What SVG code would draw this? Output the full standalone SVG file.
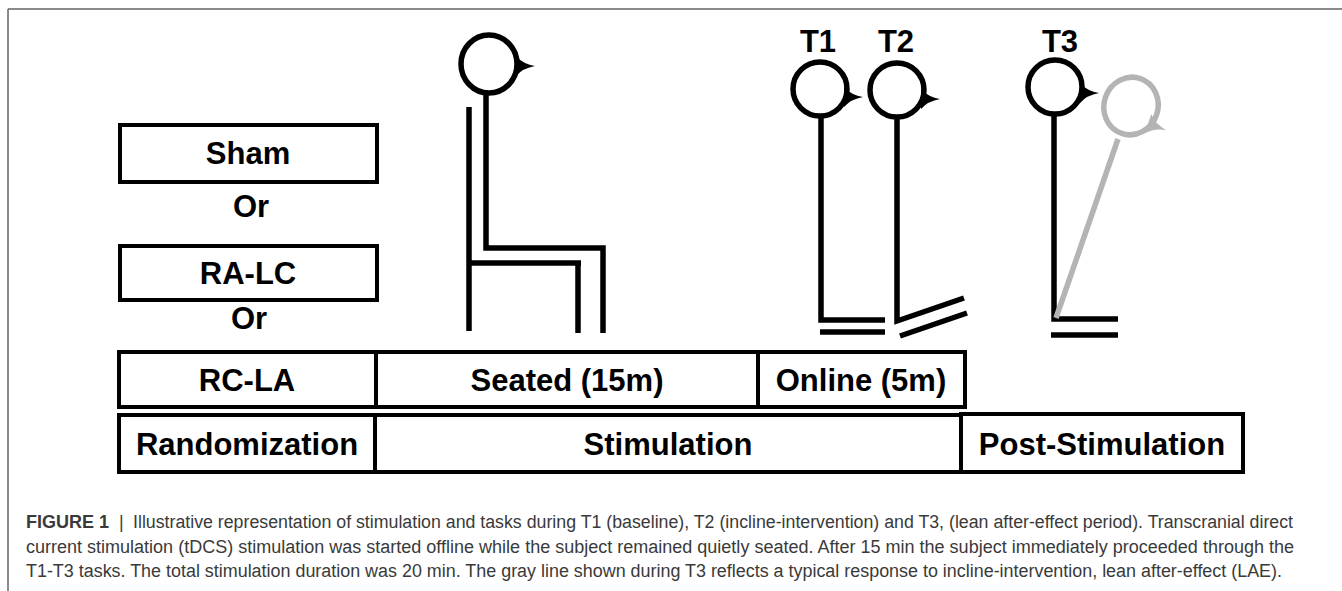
<svg xmlns="http://www.w3.org/2000/svg" width="1342" height="591" viewBox="0 0 1342 591">
<style>
.box{fill:#fff;stroke:#000;stroke-width:4}
.lbl{font-family:"Liberation Sans",Arial,sans-serif;font-weight:bold;font-size:31px;fill:#000;text-anchor:middle}
.cap{font-family:"Liberation Sans",Arial,sans-serif;font-size:18px;fill:#3a3a3a}
.limb{fill:none;stroke:#000;stroke-width:5.5;stroke-linejoin:miter;stroke-linecap:butt}
.head{fill:none;stroke:#000;stroke-width:5.5}
.gray{stroke:#b4b4b4}
</style>
<defs>
<path id="nose" d="M-19,-10 Q-12,-2 0,0 Q-12,2 -19,10 Z"/>
</defs>
<rect width="1342" height="591" fill="#fff"/>
<g id="frame" fill="none" stroke="#666" stroke-width="1.5">
<path d="M8,9 H1342 M8,9 V591"/>
</g>

<g id="sham"><rect class="box" x="120" y="125" width="257" height="57"/><text class="lbl" x="248" y="164">Sham</text></g>
<g id="or1"><text class="lbl" x="251" y="217">Or</text></g>
<g id="ra-lc"><rect class="box" x="120" y="246" width="257" height="54"/><text class="lbl" x="248" y="284">RA-LC</text></g>
<g id="or2"><text class="lbl" x="249" y="329">Or</text></g>
<g id="rc-la"><rect class="box" x="119" y="352" width="257" height="55"/><text class="lbl" x="247" y="391">RC-LA</text></g>
<g id="seated"><rect class="box" x="376" y="352" width="382" height="55"/><text class="lbl" x="567" y="391">Seated (15m)</text></g>
<g id="online"><rect class="box" x="758" y="352" width="207" height="55"/><text class="lbl" x="861" y="391">Online (5m)</text></g>
<g id="randomization"><rect class="box" x="119" y="415" width="256" height="57"/><text class="lbl" x="247" y="455">Randomization</text></g>
<g id="stimulation"><rect class="box" x="375" y="415" width="586" height="57"/><text class="lbl" x="668" y="455">Stimulation</text></g>
<g id="post-stimulation"><rect class="box" x="961" y="414" width="282" height="58"/><text class="lbl" x="1102" y="455">Post-Stimulation</text></g>

<g id="seated-figure">
<ellipse class="head" cx="489" cy="64" rx="28" ry="29"/>
<use href="#nose" transform="translate(535,66)"/>
<path class="limb" d="M486,93 V248 H603 V333"/>
<path class="limb" d="M469,107 V331 M469,263 H581 M578,263 V333"/>
</g>

<g id="t1-figure">
<text class="lbl" x="818" y="52">T1</text>
<ellipse class="head" cx="820" cy="89" rx="27" ry="27"/>
<use href="#nose" transform="translate(863,97)"/>
<path class="limb" d="M821,116 V320 H885 M820,332 H885"/>
</g>

<g id="t2-figure">
<text class="lbl" x="896" y="52">T2</text>
<ellipse class="head" cx="897" cy="90" rx="27" ry="27"/>
<use href="#nose" transform="translate(940,99)"/>
<path class="limb" d="M897,117 V321 L964,298 M900,336 L967,313"/>
</g>

<g id="t3-figure">
<text class="lbl" x="1060" y="52">T3</text>
<ellipse class="head" cx="1055" cy="87" rx="27" ry="27"/>
<use href="#nose" transform="translate(1099,93)"/>
<path class="limb" d="M1054,114 V319 H1118 M1051,335 H1118"/>
</g>

<g id="lae-figure">
<path class="limb gray" d="M1056,318 L1118,139" stroke-width="5"/>
<ellipse class="head gray" cx="1131" cy="106" rx="27" ry="29" transform="rotate(19 1131 106)"/>
<use href="#nose" fill="#b4b4b4" transform="translate(1166,130) rotate(19)"/>
</g>

<g id="connectors"></g>

<g id="caption">
<text class="cap" x="26" y="528" font-weight="bold" fill="#2a2a2a">FIGURE 1</text>
<text class="cap" x="119" y="528">|</text>
<text class="cap" x="133" y="528" textLength="1160" lengthAdjust="spacingAndGlyphs">Illustrative representation of stimulation and tasks during T1 (baseline), T2 (incline-intervention) and T3, (lean after-effect period). Transcranial direct</text>
<text class="cap" x="26" y="552.5" textLength="1268" lengthAdjust="spacingAndGlyphs">current stimulation (tDCS) stimulation was started offline while the subject remained quietly seated. After 15 min the subject immediately proceeded through the</text>
<text class="cap" x="26" y="577" textLength="1256" lengthAdjust="spacingAndGlyphs">T1-T3 tasks. The total stimulation duration was 20 min. The gray line shown during T3 reflects a typical response to incline-intervention, lean after-effect (LAE).</text>
</g>
</svg>
